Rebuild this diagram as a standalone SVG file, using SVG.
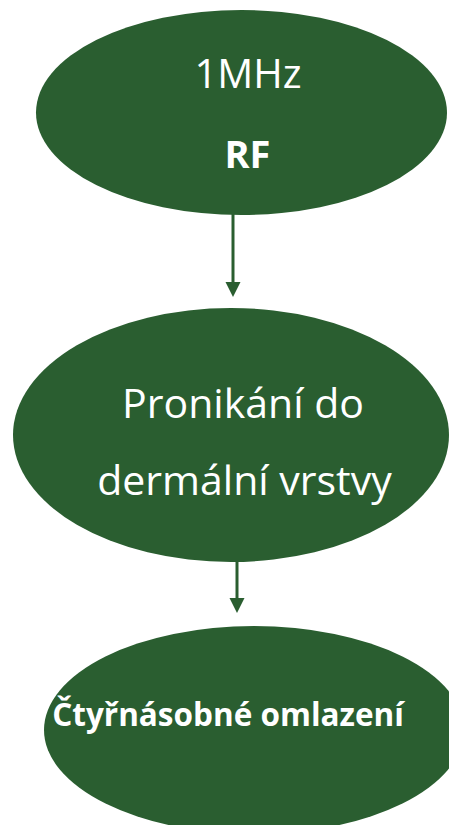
<svg xmlns="http://www.w3.org/2000/svg" width="449" height="825" viewBox="0 0 449 825">
<style>
.node{fill:#2A5E30;}
.t{fill:#ffffff;font-family:"Open Sans","Noto Sans","Liberation Sans",sans-serif;text-anchor:middle;}
.b{font-weight:bold;}
.edge{stroke:#2A5E30;stroke-width:3;fill:none;}
</style>
<defs>
<marker id="arr" markerUnits="userSpaceOnUse" markerWidth="16" markerHeight="16" refX="2" refY="7.5" orient="auto">
<path d="M0,0 L15,7.5 L0,15 z" fill="#2A5E30"/>
</marker>
</defs>
<rect width="449" height="825" fill="#ffffff"/>
<g id="connectors">
<line class="edge" x1="233" y1="214" x2="233" y2="284" marker-end="url(#arr)"/>
<line class="edge" x1="237" y1="561" x2="237" y2="600" marker-end="url(#arr)"/>
</g>
<g id="node-rf">
<ellipse class="node" cx="241.5" cy="112.5" rx="205.5" ry="102.5"/>
<text class="t" x="248" y="88" font-size="40">1MHz</text>
<text class="t b" x="247.5" y="168" font-size="38">RF</text>
</g>
<g id="node-pronikani">
<ellipse class="node" cx="231" cy="435" rx="218" ry="127"/>
<text class="t" x="243" y="418" font-size="41">Pronikání do</text>
<text class="t" x="244.5" y="495" font-size="41">dermální vrstvy</text>
</g>
<g id="node-omlazeni">
<ellipse class="node" cx="254" cy="730" rx="210" ry="104"/>
<text class="t b" x="228" y="726" font-size="31.5">Čtyřnásobné omlazení</text>
</g>
</svg>
